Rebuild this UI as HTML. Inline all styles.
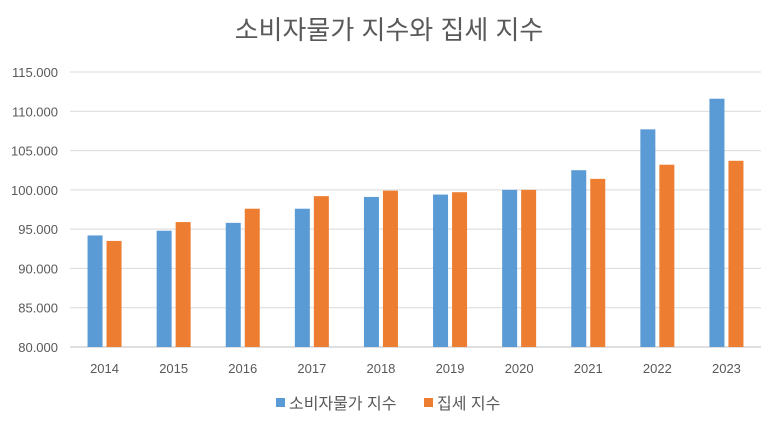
<!DOCTYPE html>
<html><head><meta charset="utf-8"><style>
body{margin:0;background:#fff;font-family:"Liberation Sans","Noto Sans CJK KR",sans-serif}
</style></head><body>
<svg width="780" height="423" xmlns="http://www.w3.org/2000/svg" id="c">
<text x="389" y="39" text-anchor="middle" font-size="26" fill="#595959" font-family="Liberation Sans, Noto Sans CJK KR, sans-serif">소비자물가 지수와 집세 지수</text>
<g id="grid"></g><g id="bars"></g><g id="xl"></g>
<g>
<rect x="276" y="398" width="9" height="9" fill="#5b9bd5"/>
<text x="289" y="409" font-size="16" fill="#595959">소비자물가 지수</text>
<rect x="424" y="398" width="9" height="9" fill="#ed7d31"/>
<text x="437" y="409" font-size="16" fill="#595959">집세 지수</text>
</g>
</svg>
<script>
const categories=["2014","2015","2016","2017","2018","2019","2020","2021","2022","2023"];
const cpi=[94.2,94.8,95.8,97.6,99.1,99.4,100,102.5,107.7,111.6];
const rent=[93.5,95.9,97.6,99.2,99.9,99.7,100,101.4,103.2,103.7];
const yTicks=[80,85,90,95,100,105,110,115];
const yTickLabels=["80.000","85.000","90.000","95.000","100.000","105.000","110.000","115.000"];
const NS="http://www.w3.org/2000/svg";
const x0=70,x1=761,yMin=80,yMax=115,py0=347,py1=72;
const y=v=>py0-(v-yMin)/(yMax-yMin)*(py0-py1);
const bw=(x1-x0)/categories.length;
const cx=i=>x0+bw*(i+0.5);
function mk(t,a,p){const e=document.createElementNS(NS,t);for(const k in a)e.setAttribute(k,a[k]);p.appendChild(e);return e;}
const g=document.getElementById('grid');
yTicks.forEach((v,i)=>{
 const l=mk('line',{x1:x0,x2:x1,y1:y(v),y2:y(v),stroke:i==0?'#bfbfbf':'#d9d9d9','stroke-width':1},g);
 
 
 const t=mk('text',{x:58,y:y(v)+5,'text-anchor':'end','font-size':13,fill:'#595959'},g);
 t.textContent=yTickLabels[i];
 
 
});
const b=document.getElementById('bars'),xl=document.getElementById('xl');
categories.forEach((c,i)=>{
 const r1=mk('rect',{x:cx(i)-17,y:y(cpi[i]),width:15,height:py0-y(cpi[i]),fill:'#5b9bd5'},b);
 
 
 const r2=mk('rect',{x:cx(i)+2,y:y(rent[i]),width:15,height:py0-y(rent[i]),fill:'#ed7d31'},b);
 
 
 const t=mk('text',{x:cx(i),y:373,'text-anchor':'middle','font-size':13,fill:'#595959'},xl);
 t.textContent=c;
 
 
});
</script>
</body></html>
